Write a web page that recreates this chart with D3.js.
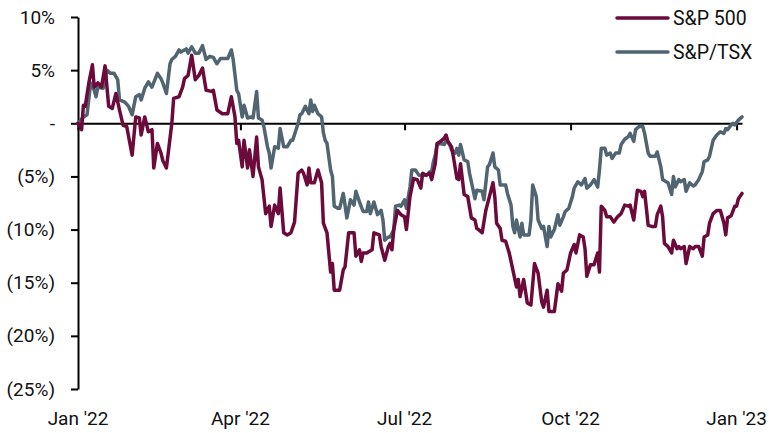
<!DOCTYPE html>
<html><head><meta charset="utf-8">
<script src="https://cdn.jsdelivr.net/npm/d3@7"></script>
<style>
html,body{margin:0;padding:0;background:#fff;}
svg{display:block;}
text{font-family:Roboto,"Liberation Sans",sans-serif;fill:#111;}
</style>
</head><body>
<svg id="chart" width="769" height="433"></svg>
<script>
// ---- data (day = days since 1 Jan 2022, value = % change) ----
const seriesNames = ["S&P 500", "S&P/TSX"];
const seriesColors = ["#6d0a3c", "#506571"];
const yTicks = [10, 5, 0, -5, -10, -15, -20, -25];
const xTickDates = ["2022-01-01", "2022-04-01", "2022-07-01", "2022-10-01", "2023-01-01"];
const xTickLabels = ["Jan '22", "Apr '22", "Jul '22", "Oct '22", "Jan '23"];

const sp500 = [[0,0],[2,-0.6],[3,1.7],[4,1.6],[6,3.8],[8,5.5],[9,3.4],[11,3.8],[13,3.4],[15,5.4],[17,1.6],[19,1.4],[21,2.8],[23,1.25],[25,-0.2],[27,-0.3],[30,-3.0],[32,0.6],[34,0.5],[35,-1.1],[37,0.6],[39,-0.8],[41,-0.6],[42,-4.2],[44,-1.9],[46,-2.8],[47,-3.5],[49,-4.2],[52,0],[53,2.35],[56,2.5],[58,3.4],[59,4.2],[61,4.5],[63,6.4],[65,4.1],[67,4.5],[69,5.2],[71,3.1],[74,3.0],[75,3.1],[77,1.25],[80,0.9],[83,0.9],[85,2.5],[87,0.6],[88,-1.9],[89,-1.6],[91,-4.1],[92,-1.6],[94,-4.2],[95,-2.5],[97,-5.0],[99,-1.3],[100,-4.1],[102,-5.3],[104,-8.5],[106,-7.8],[107,-9.7],[109,-7.7],[111,-8.5],[112,-6.1],[114,-10.3],[116,-10.5],[118,-10.3],[120,-9.3],[122,-4.7],[124,-4.4],[125,-4.7],[127,-5.8],[128,-4.2],[129,-5.6],[131,-5.6],[133,-4.4],[135,-5.6],[136,-9.4],[138,-10.3],[140,-14.0],[141,-13.2],[142,-15.7],[145,-15.7],[147,-13.8],[148,-13.5],[150,-10.3],[153,-10.3],[154,-12.5],[156,-11.9],[157,-13.0],[158,-12.2],[160,-12.2],[163,-11.9],[164,-10.3],[167,-10.5],[168,-11.6],[170,-12.9],[172,-11.6],[173,-11.3],[174,-11.9],[175,-10.0],[177,-8.2],[179,-8.6],[181,-8.8],[182,-10.0],[184,-6.9],[186,-5.2],[188,-5.3],[190,-6.1],[191,-4.7],[193,-4.9],[195,-4.7],[196,-5.3],[198,-3.8],[199,-1.9],[201,-1.7],[203,-1.4],[204,-1.1],[205,-1.7],[207,-2.2],[208,-3.1],[210,-5.2],[211,-5.3],[212,-3.8],[214,-6.7],[216,-6.9],[218,-8.9],[220,-9.1],[221,-9.9],[222,-10.0],[224,-10.3],[226,-8.2],[228,-6.9],[230,-5.6],[231,-6.9],[232,-9.4],[234,-9.9],[235,-11.0],[237,-11.1],[239,-12.2],[241,-13.8],[243,-15.4],[244,-14.7],[245,-16.3],[247,-14.7],[249,-16.9],[251,-17.1],[253,-13.2],[255,-14.1],[257,-16.8],[258,-17.3],[260,-15.7],[261,-17.7],[263,-17.7],[264,-17.7],[266,-15.1],[268,-15.8],[269,-14.1],[271,-13.8],[273,-12.2],[275,-11.4],[276,-12.2],[278,-10.5],[280,-10.7],[281,-11.8],[282,-14.4],[284,-13.3],[286,-13.3],[288,-12.2],[289,-14.0],[290,-7.8],[292,-8.2],[293,-8.8],[295,-8.8],[297,-9.3],[299,-8.8],[301,-8.5],[303,-7.7],[305,-7.8],[306,-7.7],[308,-9.1],[310,-6.3],[312,-6.4],[313,-6.9],[314,-6.4],[316,-9.6],[318,-9.7],[320,-9.7],[321,-8.6],[323,-7.8],[324,-8.8],[325,-11.3],[327,-11.6],[329,-12.2],[330,-11.0],[332,-11.8],[333,-11.6],[334,-11.8],[336,-11.6],[337,-13.2],[339,-11.6],[341,-11.8],[342,-11.6],[344,-11.6],[346,-12.5],[347,-10.7],[349,-10.5],[350,-9.4],[352,-8.5],[354,-8.2],[356,-8.2],[358,-9.4],[359,-10.5],[360,-8.9],[362,-8.7],[364,-7.8],[365,-7.8],[366,-7.1],[368,-6.6]];

const tsx = [[0,0],[3,0.6],[5,0.8],[7,3.8],[9,3.1],[10,2.5],[11,3.4],[14,3.3],[16,5.0],[18,4.7],[20,4.7],[22,4.1],[23,2.2],[26,2.0],[28,1.6],[30,0.8],[32,2.5],[34,2.7],[35,2.2],[37,3.3],[39,3.9],[41,3.4],[44,4.7],[46,4.2],[47,3.8],[49,2.8],[51,5.6],[52,6.0],[54,6.3],[56,6.9],[57,6.7],[60,7.0],[61,6.6],[63,7.2],[65,6.6],[67,6.6],[69,7.3],[71,6.0],[73,6.3],[75,6.2],[77,5.6],[79,6.1],[81,6.1],[83,6.1],[85,6.9],[86,6.0],[88,3.1],[89,2.8],[91,0.6],[92,1.7],[94,0.5],[96,0.6],[97,0.5],[99,3.0],[100,0.5],[102,0.3],[103,-0.3],[105,-2.2],[106,-2.8],[107,-4.2],[109,-2.2],[111,-2.35],[112,-0.5],[114,-2.2],[116,-2.2],[118,-1.6],[119,-1.6],[122,0],[123,0.8],[124,0.9],[126,1.6],[128,0.9],[129,2.2],[130,1.1],[131,1.7],[133,0.9],[135,0.6],[136,-0.9],[137,-1.6],[138,-1.9],[140,-4.4],[141,-5.0],[142,-7.8],[144,-8.0],[145,-8.0],[147,-6.6],[148,-7.7],[149,-8.9],[151,-7.2],[153,-7.7],[154,-6.4],[156,-7.4],[158,-8.3],[160,-8.3],[161,-7.4],[162,-8.5],[164,-7.4],[166,-8.6],[168,-8.2],[169,-9.1],[170,-11.0],[172,-10.7],[173,-10.7],[175,-10.0],[176,-7.8],[178,-7.7],[179,-7.8],[181,-7.2],[182,-8.0],[184,-6.0],[185,-4.4],[187,-4.4],[189,-4.9],[191,-4.9],[193,-4.9],[195,-4.55],[196,-4.55],[197,-3.6],[198,-3.0],[199,-2.0],[201,-1.9],[203,-2.0],[204,-1.6],[206,-2.0],[207,-2.5],[209,-2.8],[210,-2.35],[211,-3.0],[212,-2.0],[214,-3.45],[216,-3.6],[217,-4.7],[219,-6.3],[220,-7.1],[221,-6.3],[224,-6.4],[225,-7.2],[227,-4.1],[228,-3.9],[230,-2.8],[231,-4.1],[233,-4.4],[234,-5.8],[236,-5.8],[237,-5.8],[238,-6.6],[240,-7.7],[241,-9.7],[242,-10.3],[243,-9.1],[245,-10.7],[246,-9.4],[247,-10.5],[250,-10.5],[251,-9.1],[252,-5.8],[254,-6.9],[255,-9.1],[257,-9.9],[258,-9.7],[260,-11.6],[261,-9.7],[262,-10.7],[264,-10.0],[266,-8.6],[267,-9.6],[269,-8.8],[270,-8.3],[272,-8.0],[274,-6.9],[275,-6.1],[277,-5.5],[279,-5.8],[281,-5.2],[282,-6.1],[284,-5.8],[286,-5.3],[288,-6.0],[289,-4.4],[290,-2.35],[292,-2.35],[293,-3.0],[295,-2.8],[296,-3.3],[298,-2.8],[300,-2.8],[301,-2.0],[303,-1.5],[305,-1.25],[306,-0.95],[308,-1.7],[309,-0.6],[311,-0.3],[313,-0.3],[314,-0.95],[316,-2.8],[317,-3.1],[320,-3.1],[321,-2.7],[323,-4.1],[324,-5.3],[326,-5.5],[327,-5.6],[329,-6.7],[330,-5.0],[331,-6.0],[333,-5.3],[334,-5.5],[336,-5.3],[337,-6.4],[339,-5.6],[341,-5.9],[342,-5.8],[344,-5.3],[346,-4.55],[347,-3.6],[349,-3.45],[350,-3.1],[352,-1.6],[354,-1.1],[356,-0.8],[358,-0.95],[359,-0.5],[360,-0.6],[362,-0.15],[363,0],[364,-0.15],[366,0.3],[368,0.6]];

// ---- chart ----
const svg = d3.select("#chart");
const start = new Date(Date.UTC(2022, 0, 1));
const toDate = d => d3.utcDay.offset(start, d);
const lastDay = 368;

const x = d3.scaleUtc().domain([start, toDate(lastDay)]).range([78, 742]);
const y = d3.scaleLinear().domain([-25, 10]).range([389, 17]);

const fmt = v => v === 0 ? "-" : (v < 0 ? "(" + Math.abs(v) + "%)" : v + "%");
const fontSize = 19;
const legendFontSize = 19.5;

// y axis
const yAxis = svg.append("g").attr("transform", "translate(78,0)")
  .call(d3.axisLeft(y).tickValues(yTicks).tickFormat(fmt).tickSize(7).tickSizeOuter(0).tickPadding(16));
yAxis.select(".domain").attr("stroke", "#000").attr("stroke-width", 2);
yAxis.selectAll(".tick line").attr("stroke", "#000").attr("stroke-width", 2);
yAxis.selectAll(".tick text").attr("font-size", fontSize)
  .attr("font-family", 'Roboto,"Liberation Sans",sans-serif').attr("fill", "#111");

// x axis along zero
const parseD = d3.utcParse("%Y-%m-%d");
const xAxis = svg.append("g").attr("transform", `translate(0,${y(0)})`)
  .call(d3.axisBottom(x).tickValues(xTickDates.map(parseD)).tickFormat("").tickSize(7).tickSizeOuter(0));
xAxis.select(".domain").attr("stroke", "#000").attr("stroke-width", 2);
xAxis.selectAll(".tick line").attr("stroke", "#000").attr("stroke-width", 2);

// x labels at bottom
svg.append("g").selectAll("text").data(xTickDates).join("text")
  .attr("x", d => x(parseD(d)))
  .attr("y", 425)
  .attr("text-anchor", "middle")
  .attr("font-size", fontSize)
  .text((d, i) => xTickLabels[i]);

// lines
const line = d3.line().x(d => x(toDate(d[0]))).y(d => y(d[1]));
const seriesData = [sp500, tsx];
[1, 0].forEach(i => {
  svg.append("path").datum(seriesData[i])
    .attr("fill", "none").attr("stroke", seriesColors[i])
    .attr("stroke-width", 3.5).attr("stroke-linejoin", "round").attr("stroke-linecap", "round")
    .attr("d", line);
});

// legend
const leg = svg.append("g");
seriesNames.forEach((name, i) => {
  const ly = 18 + i * 34;
  leg.append("line").attr("x1", 617).attr("x2", 668).attr("y1", ly).attr("y2", ly)
    .attr("stroke", seriesColors[i]).attr("stroke-width", 3.5).attr("stroke-linecap", "round");
  leg.append("text").attr("x", 673).attr("y", ly).attr("dy", "0.36em")
    .attr("font-size", legendFontSize).text(name);
});
</script>
</body></html>
